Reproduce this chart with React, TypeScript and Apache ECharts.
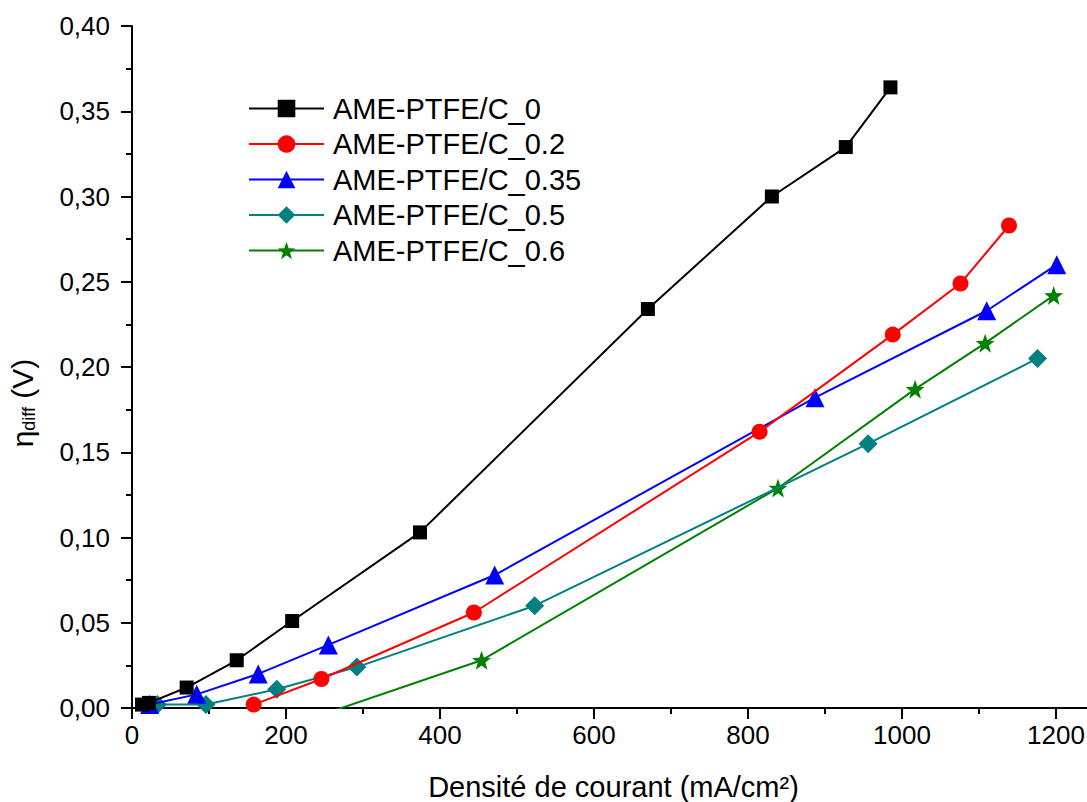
import React, { useEffect, useRef } from "react";
import * as echarts from "echarts";

const seriesNames = [
  "AME-PTFE/C_0",
  "AME-PTFE/C_0.2",
  "AME-PTFE/C_0.35",
  "AME-PTFE/C_0.5",
  "AME-PTFE/C_0.6",
];

const xC0 = [13, 22, 71, 136, 208, 374, 670, 831, 927, 985];
const yC0 = [0.002, 0.003, 0.012, 0.028, 0.051, 0.103, 0.234, 0.3, 0.329, 0.364];

const xC02 = [158, 246, 444, 815, 988, 1076, 1139];
const yC02 = [0.002, 0.017, 0.056, 0.162, 0.219, 0.249, 0.283];

const xC035 = [23, 84, 164, 255, 471, 887, 1110, 1201];
const yC035 = [0.002, 0.008, 0.02, 0.037, 0.078, 0.182, 0.233, 0.26];

const xC05 = [33, 96, 188, 292, 523, 956, 1176];
const yC05 = [0.002, 0.002, 0.011, 0.024, 0.06, 0.155, 0.205];

const xC06 = [246, 454, 839, 1017, 1108, 1197];
const yC06 = [-0.004, 0.028, 0.129, 0.187, 0.214, 0.242];

const xTickValues = [0, 200, 400, 600, 800, 1000, 1200];

const colors = ["#000000", "#ff0000", "#0000ff", "#008080", "#008000"];

const STAR =
  "path://M0,-10L2.35,-3.24L9.51,-3.09L3.8,1.24L5.88,8.09L0,4L-5.88,8.09L-3.8,1.24L-9.51,-3.09L-2.35,-3.24Z";

const symbols = ["rect", "circle", "triangle", "diamond", STAR];
const symbolSizes = [14, 16, 19, 19, 19];

const FONT = "'Liberation Sans', Arial, sans-serif";

function pairs(xs: number[], ys: number[]) {
  return xs.map((x, i) => [x, ys[i]]);
}

export default function App() {
  const ref = useRef<HTMLDivElement>(null);

  useEffect(() => {
    if (!ref.current) return;
    const chart = echarts.init(ref.current, undefined, { renderer: "svg" });
    const datasets = [
      pairs(xC0, yC0),
      pairs(xC02, yC02),
      pairs(xC035, yC035),
      pairs(xC05, yC05),
      pairs(xC06, yC06),
    ];
    const option: any = {
      animation: false,
      backgroundColor: "#ffffff",
      textStyle: { fontFamily: FONT },
      grid: {
        left: 132,
        top: 26,
        right: -46,
        bottom: 94,
        containLabel: false,
        outerBoundsMode: "none",
      },
      legend: {
        show: true,
        orient: "vertical",
        left: 248,
        top: 94,
        padding: 0,
        itemWidth: 75,
        itemHeight: 22,
        itemGap: 6.5,
        selectedMode: false,
        data: seriesNames,
        textStyle: { fontSize: 29, color: "#000", fontFamily: FONT, padding: [0, 0, 0, 4] },
      },
      xAxis: {
        type: "value",
        min: 0,
        max: 1300,
        interval: 200,
        name: "Densité de courant (mA/cm²)",
        nameLocation: "middle",
        nameGap: 64,
        nameTextStyle: {
          fontSize: 29,
          color: "#000",
          fontFamily: FONT,
          padding: [0, 38, 0, 0],
        },
        axisLine: { show: true, lineStyle: { color: "#000", width: 2 } },
        axisTick: { show: true, inside: false, length: 11, lineStyle: { color: "#000", width: 2 } },
        minorTick: { show: true, splitNumber: 2, length: 6, lineStyle: { color: "#000", width: 2 } },
        axisLabel: {
          fontSize: 26,
          color: "#000",
          margin: 14,
          fontFamily: FONT,
          showMaxLabel: false,
          formatter: (v: number) => (xTickValues.indexOf(v) >= 0 ? String(v) : ""),
        },
        splitLine: { show: false },
        minorSplitLine: { show: false },
      },
      yAxis: {
        type: "value",
        min: 0,
        max: 0.4,
        interval: 0.05,
        axisLine: { show: true, lineStyle: { color: "#000", width: 2 } },
        axisTick: { show: true, inside: false, length: 11, lineStyle: { color: "#000", width: 2 } },
        minorTick: { show: true, splitNumber: 2, length: 6, lineStyle: { color: "#000", width: 2 } },
        axisLabel: {
          fontSize: 26,
          color: "#000",
          margin: 22,
          fontFamily: FONT,
          formatter: (v: number) => v.toFixed(2).replace(".", ","),
        },
        splitLine: { show: false },
        minorSplitLine: { show: false },
      },
      graphic: [
        {
          type: "text",
          x: 22,
          y: 403,
          rotation: Math.PI / 2,
          style: {
            text: "{m|η}{s|diff}{m| (V)}",
            align: "center",
            verticalAlign: "middle",
            fill: "#000",
            rich: {
              m: { fontSize: 30, fontFamily: FONT, fill: "#000" },
              s: { fontSize: 18, fontFamily: FONT, fill: "#000", padding: [14, 0, 0, 0] },
            },
          },
        },
      ],
      series: seriesNames.map((name, i) => ({
        name,
        type: "line",
        data: datasets[i],
        symbol: symbols[i],
        symbolSize: symbolSizes[i],
        showAllSymbol: true,
        clip: true,
        lineStyle: { color: colors[i], width: 2 },
        itemStyle: { color: colors[i] },
        emphasis: { disabled: true },
        z: 10 - i,
      })),
    };
    chart.setOption(option);
    return () => chart.dispose();
  }, []);

  return (
    <div
      ref={ref}
      style={{ position: "fixed", left: 0, top: 0, width: 1087, height: 802, background: "#fff" }}
    />
  );
}
